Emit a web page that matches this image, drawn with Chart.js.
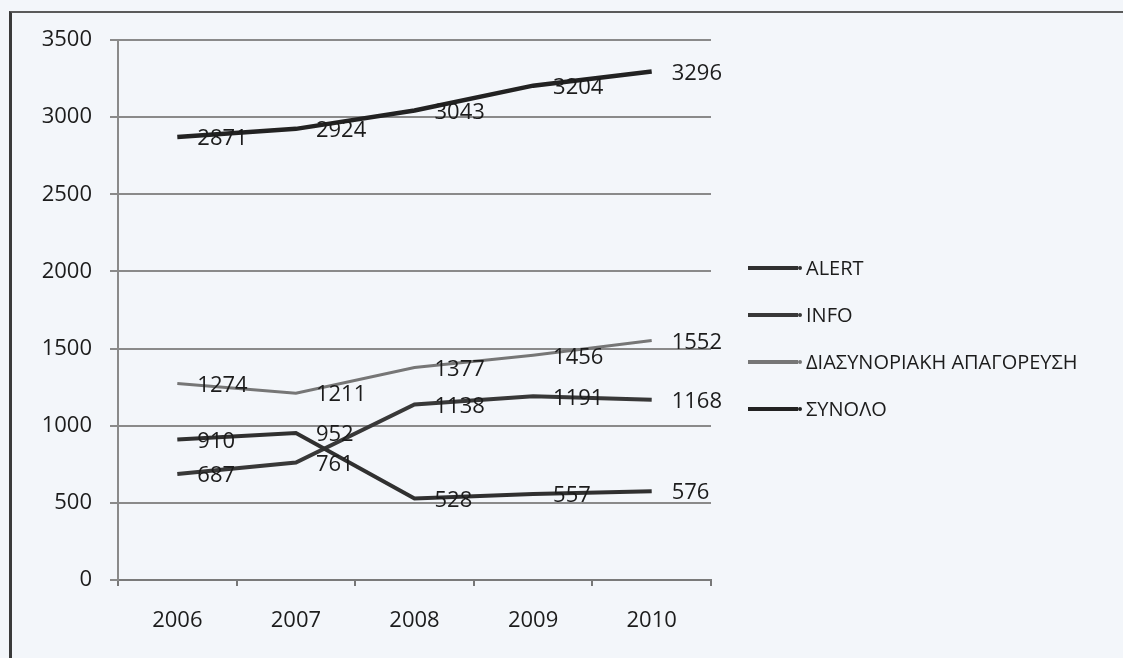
<!DOCTYPE html>
<html>
<head>
<meta charset="utf-8">
<script src="https://cdn.jsdelivr.net/npm/chart.js@4"></script>
<style>
  html, body { margin: 0; padding: 0; background: #f3f6fa; overflow: hidden; }
  #wrap { position: relative; width: 1123px; height: 658px; overflow: hidden; }
  #frame { position: absolute; left: 9px; top: 11px; width: 1114px; height: 647px;
           border-left: 3px solid #3a3a3a; border-top: 2px solid #5a5a5a; box-sizing: border-box; }
  canvas { position: absolute; left: 0; top: 0; }
</style>
</head>
<body>
<div id="wrap">
  <div id="frame"></div>
  <canvas id="c" width="1123" height="658"></canvas>
</div>
<script>
// Years on the horizontal axis
const years = ['2006', '2007', '2008', '2009', '2010'];

// Yearly counts per category
const alertValues     = [910, 952, 528, 557, 576];
const infoValues      = [687, 761, 1138, 1191, 1168];
const borderBanValues = [1274, 1211, 1377, 1456, 1552];
const totalValues     = [2871, 2924, 3043, 3204, 3296];

const seriesNames = ['ALERT', 'INFO', 'ΔΙΑΣΥΝΟΡΙΑΚΗ ΑΠΑΓΟΡΕΥΣΗ', 'ΣΥΝΟΛΟ'];

// Value axis range
const yMin = 0;
const yMax = 3500;
const yStep = 500;

const FONT = '"Open Sans", "DejaVu Sans", sans-serif';
const textColor = '#1c1c1c';

// Value labels to the right of every point
const pointLabels = {
  id: 'pointLabels',
  afterDatasetsDraw(chart) {
    const ctx = chart.ctx;
    ctx.save();
    ctx.font = '22px ' + FONT;
    ctx.fillStyle = textColor;
    ctx.textAlign = 'left';
    ctx.textBaseline = 'middle';
    chart.data.datasets.forEach((ds, i) => {
      chart.getDatasetMeta(i).data.forEach((pt, j) => {
        ctx.fillText(String(ds.data[j]), pt.x + 20, pt.y + 2);
      });
    });
    ctx.restore();
  }
};

// Legend on the right: line sample with a small end dot, then the name
const sideLegend = {
  id: 'sideLegend',
  afterDraw(chart) {
    const ctx = chart.ctx;
    const x0 = 748, lineLen = 50, top = 268, gap = 47;
    ctx.save();
    ctx.font = '20px ' + FONT;
    ctx.textAlign = 'left';
    ctx.textBaseline = 'middle';
    chart.data.datasets.forEach((ds, i) => {
      const y = top + i * gap;
      ctx.strokeStyle = ds.borderColor;
      ctx.lineWidth = 4;
      ctx.beginPath();
      ctx.moveTo(x0, y);
      ctx.lineTo(x0 + lineLen, y);
      ctx.stroke();
      ctx.fillStyle = ds.borderColor;
      ctx.beginPath();
      ctx.arc(x0 + lineLen + 2, y, 2, 0, Math.PI * 2);
      ctx.fill();
      ctx.fillStyle = textColor;
      ctx.fillText(ds.label, x0 + lineLen + 8, y + 1);
    });
    ctx.restore();
  }
};

const seriesStyles = [
  { color: '#303030', width: 4 },
  { color: '#383838', width: 4 },
  { color: '#767676', width: 3 },
  { color: '#222222', width: 4.5 }
];
const seriesData = [alertValues, infoValues, borderBanValues, totalValues];

new Chart(document.getElementById('c'), {
  type: 'line',
  data: {
    labels: years,
    datasets: seriesData.map((vals, i) => ({
      label: seriesNames[i],
      data: vals,
      borderColor: seriesStyles[i].color,
      borderWidth: seriesStyles[i].width,
      pointRadius: 0,
      tension: 0,
      fill: false
    }))
  },
  options: {
    responsive: false,
    animation: false,
    devicePixelRatio: 1,
    layout: { padding: { top: 40, right: 412, bottom: 0, left: 0 } },
    plugins: {
      legend: { display: false },
      tooltip: { enabled: false }
    },
    scales: {
      x: {
        offset: true,
        grid: { offset: true, drawOnChartArea: false, drawTicks: true, tickLength: 6,
                color: '#777777', lineWidth: 2 },
        border: { color: '#7a7a7a', width: 2 },
        ticks: { color: textColor, font: { family: FONT, size: 22 }, padding: 22 },
        afterFit(scale) { scale.height = 78; }
      },
      y: {
        min: yMin,
        max: yMax,
        grid: { color: '#8a8a8a', lineWidth: 2, tickLength: 8 },
        border: { color: '#8a8a8a', width: 2 },
        ticks: { stepSize: yStep, color: textColor, font: { family: FONT, size: 22 }, padding: 18,
                 callback: (v) => String(v) },
        afterFit(scale) { scale.width = 118; }
      }
    }
  },
  plugins: [pointLabels, sideLegend]
});
</script>
</body>
</html>
